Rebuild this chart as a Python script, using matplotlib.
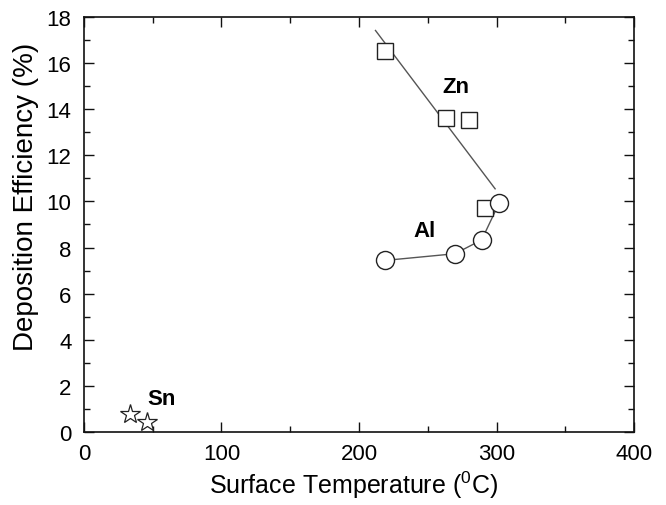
import numpy as np
import matplotlib
matplotlib.use("Agg")
import matplotlib.pyplot as plt
from matplotlib.ticker import MultipleLocator

plt.rcParams['font.family'] = ['Liberation Sans', 'DejaVu Sans']
plt.rcParams['mathtext.fontset'] = 'custom'
plt.rcParams['mathtext.rm'] = 'Liberation Sans'

# Data
zn_temp = [219, 263, 280, 291.6]
zn_eff = [16.54, 13.64, 13.55, 9.73]
al_temp = [219, 269.8, 289.2, 302]
al_eff = [7.44, 7.73, 8.33, 9.94]
sn_temp = [33.5, 45.6]
sn_eff = [0.77, 0.41]
zn_fit_range = [212, 299]

fig = plt.figure(figsize=(6.66, 5.06), dpi=100)
ax = fig.add_axes([0.126, 0.1449, 0.826, 0.8189])

# Zn linear fit line
coef = np.polyfit(zn_temp, zn_eff, 1)
xf = np.array(zn_fit_range)
ax.plot(xf, np.polyval(coef, xf), color='#555555', lw=1.0, zorder=2)
# Al connecting line
ax.plot(al_temp, al_eff, color='#555555', lw=1.0, zorder=2)

ax.plot(zn_temp, zn_eff, ls='none', marker='s', ms=11.5, mfc='white',
        mec='#222222', mew=1.0, zorder=3)
ax.plot(al_temp, al_eff, ls='none', marker='o', ms=13, mfc='white',
        mec='#222222', mew=1.0, zorder=3)
ax.plot(sn_temp, sn_eff, ls='none', marker='*', ms=15, mfc='white',
        mec='#222222', mew=0.9, zorder=3, clip_on=False)

ax.text(270.5, 15.0, 'Zn', fontsize=16, fontweight='bold', ha='center', va='center')
ax.text(248, 8.74, 'Al', fontsize=16, fontweight='bold', ha='center', va='center')
ax.text(56.5, 1.42, 'Sn', fontsize=16, fontweight='bold', ha='center', va='center')

ax.set_xlim(0, 400)
ax.set_ylim(0, 18)
ax.xaxis.set_major_locator(MultipleLocator(100))
ax.xaxis.set_minor_locator(MultipleLocator(50))
ax.yaxis.set_major_locator(MultipleLocator(2))
ax.yaxis.set_minor_locator(MultipleLocator(1))
ax.tick_params(which='both', direction='in', top=True, right=True, width=1.0,
               labelsize=16, color='#111111')
ax.tick_params(which='major', length=7)
ax.tick_params(axis='x', which='major', pad=8)
ax.tick_params(axis='y', which='major', pad=9)
ax.tick_params(which='minor', length=4)
for s in ax.spines.values():
    s.set_linewidth(1.2)
    s.set_color('#111111')

ax.set_xlabel(r'Surface Temperature ($^0$C)', fontsize=18)
ax.set_ylabel('Deposition Efficiency (%)', fontsize=20)
ax.xaxis.set_label_coords(0.49, -0.128)
ax.yaxis.set_label_coords(-0.105, 0.569)
ax.xaxis.label.set_va('center')
ax.yaxis.label.set_va('center')

fig.savefig('out.png', dpi=100)
